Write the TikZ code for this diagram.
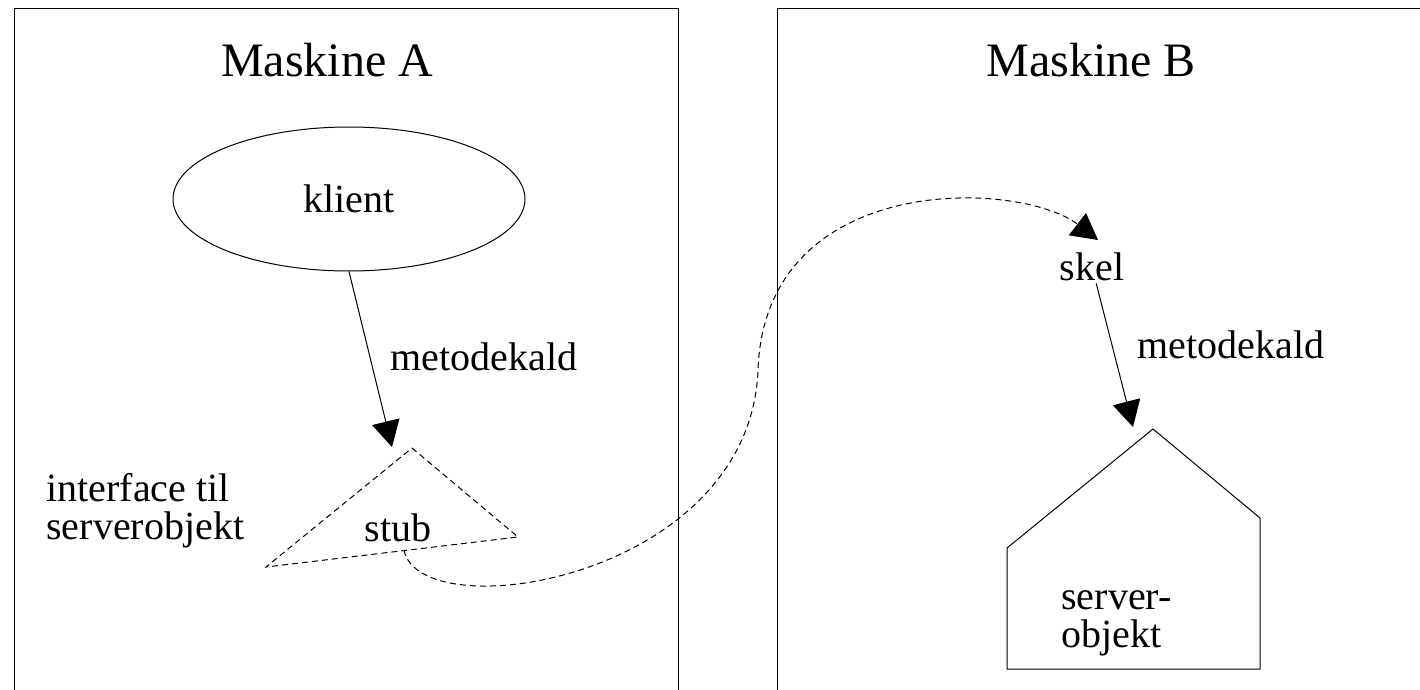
\documentclass[tikz,border=0pt]{standalone}
\usepackage{fontspec}
\setmainfont{Liberation Serif}
\usetikzlibrary{calc}
\usetikzlibrary{arrows.meta,shapes.geometric}
\tikzset{
	machine/.style={line width=0.5pt},
	title/.style={font=\fontsize{24}{26}\selectfont},
	lbl/.style={font=\fontsize{20}{19}\selectfont, inner sep=1pt, align=left},
	call/.style={line width=0.5pt, -{Triangle[length=13pt, width=14pt]}},
	remote/.style={line width=0.5pt, dash pattern=on 3pt off 2pt}
}

\begin{document}
\begin{tikzpicture}[x=0.5pt, y=-0.5pt]
	\useasboundingbox (0,0) rectangle (1420,690);
	\draw[machine] (14,690) -- (14,9) -- (678,9) -- (678,690);
	\draw[machine] (777,690) -- (777,9) -- (1420,9);

	\node[title] (maskA) at (327,60) {Maskine A};
	\node[title] (maskB) at (1091,60) {Maskine B};

	\node[lbl, ellipse, draw, line width=0.5pt, minimum width=176pt, minimum height=72pt] (klient) at (349,199) {klient};
	\node[lbl] (kaldA) at (484,357) {metodekald};
	\node[lbl, anchor=west] (iface) at (44,511) {interface til\\serverobjekt};

	\coordinate (stubtop) at (412,448);
	\coordinate (stubright) at (518,537);
	\coordinate (stubleft) at (266,567);
	\coordinate (stubin) at (392,447);
	\coordinate (stubout) at (404,550);
	\draw[remote] (stubtop) -- (stubright) -- (stubleft) -- cycle;
	\node[lbl] (stub) at (398,528) {stub};

	\node[lbl] (skel) at (1092,267) {skel};
	\node[lbl] (kaldB) at (1231,345) {metodekald};

	\coordinate (roof) at (1153,429);
	\coordinate (roofin) at (1133,427);
	\draw[machine] (roof) -- (1260,518) -- (1260,669) -- (1007,669) -- (1007,548) -- cycle;
	\node[lbl, anchor=west] (server) at (1059,623) {server-\\objekt};

	\coordinate (bend) at (758,370);
	\coordinate (skelin) at (1098,240);

	\draw[call] (klient.south) -- (stubin);
	\draw[call] (skel) -- (roofin);
	\draw[remote, -{Triangle[length=13pt, width=14pt]}] (stubout) .. controls (420,630) and (750,580) .. (bend)
		.. controls (765,170) and (1020,180) .. (skelin);
\end{tikzpicture}
\end{document}
